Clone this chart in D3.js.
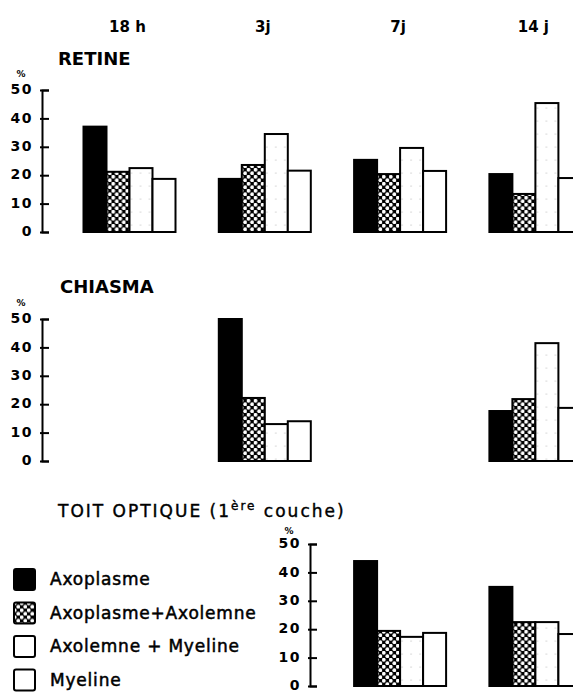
<!DOCTYPE html>
<html><head><meta charset="utf-8">
<script src="https://cdn.jsdelivr.net/npm/d3@7"></script>
<style>
html,body{margin:0;padding:0;background:#fff;overflow:hidden;}
svg{display:block;}
text{font-family:"DejaVu Sans",sans-serif;fill:#000;}
</style></head>
<body>
<div id="chart"></div>
<script>
// ---------- data ----------
const groups = ["18 h", "3j", "7j", "14 j"];
const series = ["Axoplasme", "Axoplasme+Axolemne", "Axolemne + Myeline", "Myeline"];
const yTicks = [0, 10, 20, 30, 40, 50];
// values per group (null = no data) in %, order = series
const retine  = [[37.1, 21.2, 22.5, 18.7], [18.7, 23.6, 34.5, 21.6], [25.4, 20.4, 29.6, 21.5], [20.4, 13.4, 45.4, 19.0]];
const chiasma = [null, [50.0, 22.2, 13.0, 14.0], null, [17.6, 21.8, 41.5, 18.7]];
const toit    = [null, null, [44.0, 19.4, 17.3, 18.7], [34.9, 22.5, 22.5, 18.3]];
const panelTitles = ["RETINE", "CHIASMA"];

// ---------- layout ----------
const W = 573, H = 692;
const svg = d3.select("#chart").append("svg").attr("width", W).attr("height", H);
const defs = svg.append("defs");

// checked pattern: black mesh with white holes
const pc = defs.append("pattern").attr("id", "checked").attr("patternUnits", "userSpaceOnUse")
  .attr("width", 7).attr("height", 7);
pc.append("rect").attr("width", 7).attr("height", 7).attr("fill", "#000");
pc.append("circle").attr("cx", 1.75).attr("cy", 1.75).attr("r", 1.9).attr("fill", "#fff");
pc.append("circle").attr("cx", 5.25).attr("cy", 5.25).attr("r", 1.9).attr("fill", "#fff");
// sparse stipple pattern
const ps = defs.append("pattern").attr("id", "stipple").attr("patternUnits", "userSpaceOnUse")
  .attr("width", 9).attr("height", 13);
ps.append("rect").attr("width", 9).attr("height", 13).attr("fill", "#fff");
ps.append("circle").attr("cx", 3).attr("cy", 4).attr("r", 0.6).attr("fill", "#aaa");

const fills = ["#000", "url(#checked)", "url(#stipple)", "#fff"];

const x = d3.scaleBand().domain(groups).range([83.5, 581.4]).paddingInner(0.32).paddingOuter(0);
const xs = d3.scaleBand().domain(series).range([0, x.bandwidth()]).padding(0);

// column headers
svg.append("g").selectAll("text").data(groups).join("text")
  .attr("x", d => x(d) + x.bandwidth() / 2 - 2)
  .attr("y", 32)
  .attr("text-anchor", "middle")
  .attr("font-size", 15).attr("font-weight", "bold")
  .text(d => d);

function panel(vals, y0, y50, axisX, title, titleX, titleY, pctGap) {
  const y = d3.scaleLinear().domain([0, 50]).range([y0, y50]);
  const g = svg.append("g");
  // axis
  const ax = g.append("g").attr("transform", `translate(${axisX},0)`)
    .call(d3.axisLeft(y).tickValues(yTicks).tickSizeInner(-7).tickSizeOuter(-7).tickPadding(9));
  ax.select(".domain").attr("stroke", "#000").attr("stroke-width", 2).attr("fill", "none");
  ax.selectAll(".tick line").attr("stroke", "#000").attr("stroke-width", 2).attr("x1", -2);
  ax.selectAll(".tick text").attr("font-family", "DejaVu Sans, sans-serif")
    .attr("font-size", 14).attr("font-weight", "bold").attr("letter-spacing", 1.5).attr("dy", "0.26em");
  g.append("text").attr("x", axisX - 21).attr("y", y(50) - pctGap)
    .attr("text-anchor", "middle").attr("font-size", 9).attr("font-weight", "bold").text("%");
  if (title) {
    g.append("text").attr("x", titleX).attr("y", titleY)
      .attr("font-size", 18).attr("font-weight", "bold").text(title);
  }
  // bars
  const gg = g.selectAll("g.grp").data(groups.map((d, i) => ({ g: d, v: vals[i] })).filter(d => d.v))
    .join("g").attr("class", "grp").attr("transform", d => `translate(${x(d.g)},0)`);
  gg.selectAll("rect").data(d => d.v.map((v, j) => ({ s: series[j], v, j })))
    .join("rect")
    .attr("x", d => xs(d.s))
    .attr("y", d => y(d.v))
    .attr("width", xs.bandwidth())
    .attr("height", d => y(0) - y(d.v))
    .attr("fill", d => fills[d.j])
    .attr("stroke", "#000").attr("stroke-width", 2);
}

panel(retine, 232, 90, 42, panelTitles[0], 58, 65, 13);
panel(chiasma, 461, 319, 42, panelTitles[1], 60, 293, 13);
panel(toit, 686, 544, 310, null, 0, 0, 10);

// bottom title
const tt = svg.append("text").attr("x", 58).attr("y", 517)
  .attr("font-size", 17).attr("letter-spacing", 2).attr("stroke", "#000").attr("stroke-width", 0.4);
tt.append("tspan").text("TOIT OPTIQUE (1");
tt.append("tspan").attr("dy", -7).attr("font-size", 12).text("ère");
tt.append("tspan").attr("dy", 7).text(" couche)");

// legend
const lg = svg.append("g").selectAll("g").data(series).join("g")
  .attr("transform", (d, i) => `translate(13,${568 + i * 33.5})`);
lg.append("rect").attr("x", 1).attr("y", 1).attr("width", 21).attr("height", 21).attr("rx", 2)
  .attr("fill", (d, i) => i === 2 ? "#fff" : fills[i]).attr("stroke", "#000").attr("stroke-width", 2);
lg.append("text").attr("x", 37).attr("y", 17)
  .attr("font-size", 17).attr("letter-spacing", 0.8).attr("stroke", "#000").attr("stroke-width", 0.5)
  .text(d => d);
</script>
</body></html>
